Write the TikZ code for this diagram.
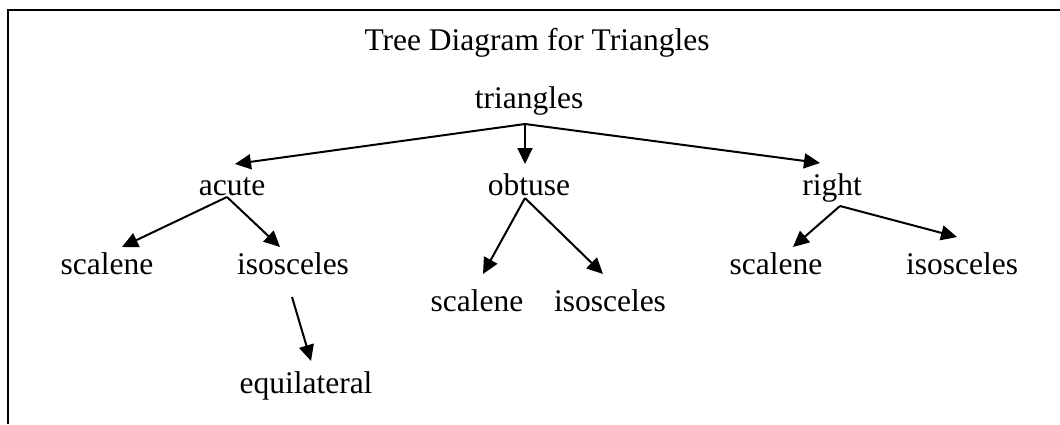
\documentclass[tikz,border=0pt]{standalone}
\usepackage{fontspec}
\setmainfont{Liberation Serif}
\usetikzlibrary{arrows.meta}
\begin{document}
\begin{tikzpicture}[x=1pt,y=-1pt,
  lbl/.style={anchor=base,inner sep=0pt,font=\fontsize{31.5}{37}\selectfont},
  arr/.style={line width=2pt,-{Triangle[length=16pt,width=15pt]}}]
\useasboundingbox (0,0) rectangle (1060,424);
% frame
\draw[line width=2.4pt] (7,10) -- (1060,10);
\draw[line width=2pt] (8,10) -- (8,424);
% labels
\node[lbl] (title) at (537,50) {Tree Diagram for Triangles};
\node[lbl] (tri) at (529,108) {triangles};
\node[lbl] (acute) at (232,195) {acute};
\node[lbl] (obtuse) at (529,195) {obtuse};
\node[lbl] (right) at (832,195) {right};
\node[lbl] (ascal) at (107,274) {scalene};
\node[lbl] (aiso) at (293,274) {isosceles};
\node[lbl] (equi) at (306,393) {equilateral};
\node[lbl] (oscal) at (477,311) {scalene};
\node[lbl] (oiso) at (610,311) {isosceles};
\node[lbl] (rscal) at (776,274) {scalene};
\node[lbl] (riso) at (962,274) {isosceles};
% connector points
\coordinate (triout) at (525,124);
\coordinate (acuteout) at (227,197);
\coordinate (obtout) at (525,198);
\coordinate (rightout) at (840,206);
\coordinate (isoout) at (292,297);
\coordinate (acutein) at (235,164);
\coordinate (obtin) at (525,164);
\coordinate (rightin) at (820,163);
\coordinate (ascalin) at (122,247);
\coordinate (aisoin) at (280,247);
\coordinate (equiin) at (311,361);
\coordinate (oscalin) at (483,274);
\coordinate (oisoin) at (603,274);
\coordinate (rscalin) at (793,247);
\coordinate (risoin) at (957,237);
% connectors
\draw[arr] (triout) -- (acutein);
\draw[arr] (triout) -- (obtin);
\draw[arr] (triout) -- (rightin);
\draw[arr] (acuteout) -- (ascalin);
\draw[arr] (acuteout) -- (aisoin);
\draw[arr] (isoout) -- (equiin);
\draw[arr] (obtout) -- (oscalin);
\draw[arr] (obtout) -- (oisoin);
\draw[arr] (rightout) -- (rscalin);
\draw[arr] (rightout) -- (risoin);
\end{tikzpicture}
\end{document}
